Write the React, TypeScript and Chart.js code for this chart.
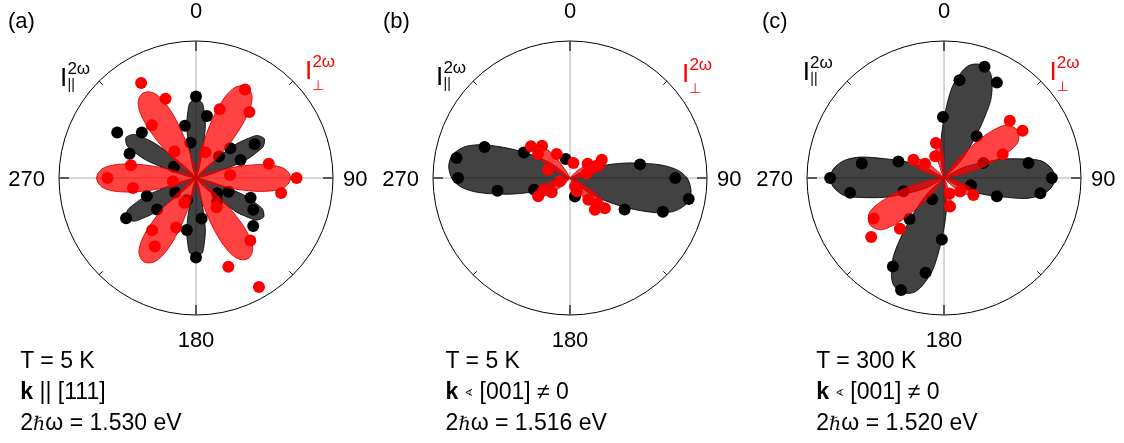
import React, { useEffect, useRef } from 'react';
import { Chart, registerables } from 'chart.js';

Chart.register(...registerables);

// ---------- angular grid (one label per degree, 0 at top, clockwise) ----------
const STEPS = 360;
const ANGLE_LABELS: string[] = Array.from({ length: STEPS }, (_, i) => String(i));
const AXIS_LABELS = ['0', '90', '180', '270'];
const MAJOR_TICKS = [0, 90, 180, 270];
const MINOR_TICKS = [45, 135, 225, 315];

// ---------- lobe outline shapes (relative radius vs angular offset) ----------
const POINTED_OFFSETS = [-30, -22, -18, -15, -12, -9, -6, -3, 0, 3, 6, 9, 12, 15, 18, 22, 30];
const POINTED_PROFILE = [0, 0.12, 0.28, 0.48, 0.68, 0.84, 0.94, 0.985, 1, 0.985, 0.94, 0.84, 0.68, 0.48, 0.28, 0.12, 0];
const BLUNT_OFFSETS = [-45, -32, -25, -20, -15, -11, -7, -3.5, 0, 3.5, 7, 11, 15, 20, 25, 32, 45];
const BLUNT_PROFILE = [0, 0.19, 0.37, 0.55, 0.76, 0.89, 0.96, 0.99, 1, 0.99, 0.96, 0.89, 0.76, 0.55, 0.37, 0.19, 0];

// ---------- panel (a) ----------
const A_BLACK_LOBE_ANGLES = [0, 60, 120, 180, 240, 300];
const A_BLACK_LOBE_LENGTHS = [0.58, 0.575, 0.57, 0.58, 0.585, 0.59];
const A_BLACK_LOBE_WIDTHS = [0.8, 0.8, 0.8, 0.8, 0.8, 0.8];
const A_RED_LOBE_ANGLES = [29, 90, 147, 212, 270, 328];
const A_RED_LOBE_LENGTHS = [0.76, 0.69, 0.7, 0.72, 0.725, 0.73];
const A_RED_LOBE_WIDTHS = [1, 1, 1, 1, 1, 1];
const A_BLACK_PT_ANGLES = [0, 10, 348, 351, 60, 49, 68, 47, 110, 119, 130, 113, 126, 172, 190, 180, 250, 231, 240, 235, 300, 310, 290, 297, 138, 202];
const A_BLACK_PT_RADII = [0.595, 0.46, 0.39, 0.26, 0.494, 0.332, 0.351, 0.23, 0.424, 0.478, 0.545, 0.259, 0.19, 0.298, 0.386, 0.58, 0.382, 0.366, 0.589, 0.185, 0.664, 0.516, 0.516, 0.18, 0.23, 0.174];
const A_RED_PT_ANGLES = [330, 339, 320, 29, 19, 39, 79, 90, 100, 139, 160, 150, 220, 211, 202, 270, 281, 261, 321, 20, 85, 145, 205, 262];
const A_RED_PT_RADII = [0.801, 0.62, 0.502, 0.738, 0.53, 0.619, 0.541, 0.734, 0.631, 0.604, 0.69, 0.919, 0.498, 0.584, 0.389, 0.646, 0.484, 0.466, 0.25, 0.2, 0.25, 0.26, 0.2, 0.17];

// ---------- panel (b) ----------
const B_BLACK_LOBE_ANGLES = [276, 97];
const B_BLACK_LOBE_LENGTHS = [0.89, 0.89];
const B_BLACK_LOBE_WIDTHS = [1, 1];
const B_RED_LOBE_ANGLES = [312, 132, 66, 244];
const B_RED_LOBE_LENGTHS = [0.34, 0.33, 0.28, 0.26];
const B_RED_LOBE_WIDTHS = [0.9, 0.9, 1.1, 1.1];
const B_BLACK_PT_ANGLES = [280, 270, 290, 260, 299, 252, 347, 165, 79, 90, 100, 110, 120];
const B_BLACK_PT_RADII = [0.841, 0.817, 0.664, 0.537, 0.385, 0.275, 0.143, 0.139, 0.521, 0.768, 0.88, 0.721, 0.46];
const B_RED_PT_ANGLES = [309, 319, 307, 331, 13, 51, 60, 66, 75, 149, 153, 140, 134, 131, 142, 240, 232, 246, 252, 291];
const B_RED_PT_RADII = [0.367, 0.311, 0.292, 0.2, 0.112, 0.166, 0.268, 0.213, 0.126, 0.071, 0.109, 0.208, 0.271, 0.337, 0.295, 0.268, 0.17, 0.213, 0.077, 0.17];

// ---------- panel (c) ----------
const C_BLACK_LOBE_ANGLES = [18, 90, 200, 270];
const C_BLACK_LOBE_LENGTHS = [0.87, 0.81, 0.89, 0.83];
const C_BLACK_LOBE_WIDTHS = [0.85, 0.9, 0.85, 0.9];
const C_RED_LOBE_ANGLES = [57, 238, 350, 169, 300, 118];
const C_RED_LOBE_LENGTHS = [0.64, 0.64, 0.28, 0.24, 0.26, 0.24];
const C_RED_LOBE_WIDTHS = [1.1, 1.1, 0.6, 0.6, 0.9, 0.9];
const C_BLACK_PT_ANGLES = [20, 9, 29, 359, 38, 80, 90, 99, 109, 69, 105, 182, 191, 210, 201, 220, 209, 270, 261, 280, 290, 252];
const C_BLACK_PT_RADII = [0.865, 0.723, 0.796, 0.445, 0.387, 0.626, 0.787, 0.712, 0.408, 0.308, 0.203, 0.45, 0.705, 0.746, 0.875, 0.391, 0.177, 0.831, 0.694, 0.609, 0.354, 0.311];
const C_RED_PT_ANGLES = [49, 59, 68, 347, 301, 307, 338, 120, 130, 168, 240, 231, 221, 160];
const C_RED_PT_RADII = [0.636, 0.669, 0.462, 0.262, 0.26, 0.173, 0.171, 0.248, 0.153, 0.212, 0.593, 0.684, 0.491, 0.12];

// ---------- texts ----------
const PANEL_TAGS = ['(a)', '(b)', '(c)'];
const CAPTION_T = ['T = 5 K', 'T = 5 K', 'T = 300 K'];
const CAPTION_REL = ['||', '∢', '∢'];
const CAPTION_DIR = ['[111]', '[001] ≠ 0', '[001] ≠ 0'];
const CAPTION_ENERGY = ['1.530', '1.516', '1.520'];

// ---------- layout / style constants ----------
const FONT = "'Liberation Sans', Arial, Helvetica, sans-serif";
const H = 443;
const R_PX = 137;
const CY = 178;
const PANEL_LEFT = [0, 375, 750];
const PANEL_WIDTH = [375, 375, 374];
const CENTER_X = [196, 570, 944];
const TAG_X = [8, 383, 762];
const CAPTION_X = [20.3, 445.6, 816.3];
const CAPTION_BASES = [368, 399.5, 430];
const IPAR_X = [60, 436, 802.7];
const IPAR_BASE = [86, 85, 80];
const IPERP_X = [305, 682, 1049.4];
const IPERP_BASE = [79, 82, 80];

const BLACK_LOBE_FILL = 'rgba(0,0,0,0.74)';
const BLACK_LOBE_LINE = 'rgba(0,0,0,0.85)';
const RED_LOBE_FILL = 'rgba(255,0,0,0.74)';
const RED_LOBE_LINE = 'rgba(220,0,0,0.9)';
const BLACK_PT = '#000000';
const RED_PT = '#ff0000';

type LobeSet = { angles: number[]; lengths: number[]; widths: number[]; offsets: number[]; profile: number[] };
type PtSet = { angles: number[]; radii: number[] };
type PanelData = { blackLobes: LobeSet; redLobes: LobeSet; blackPts: PtSet; redPts: PtSet };

const PANELS: PanelData[] = [
  {
    blackLobes: { angles: A_BLACK_LOBE_ANGLES, lengths: A_BLACK_LOBE_LENGTHS, widths: A_BLACK_LOBE_WIDTHS, offsets: POINTED_OFFSETS, profile: POINTED_PROFILE },
    redLobes: { angles: A_RED_LOBE_ANGLES, lengths: A_RED_LOBE_LENGTHS, widths: A_RED_LOBE_WIDTHS, offsets: POINTED_OFFSETS, profile: POINTED_PROFILE },
    blackPts: { angles: A_BLACK_PT_ANGLES, radii: A_BLACK_PT_RADII },
    redPts: { angles: A_RED_PT_ANGLES, radii: A_RED_PT_RADII },
  },
  {
    blackLobes: { angles: B_BLACK_LOBE_ANGLES, lengths: B_BLACK_LOBE_LENGTHS, widths: B_BLACK_LOBE_WIDTHS, offsets: BLUNT_OFFSETS, profile: BLUNT_PROFILE },
    redLobes: { angles: B_RED_LOBE_ANGLES, lengths: B_RED_LOBE_LENGTHS, widths: B_RED_LOBE_WIDTHS, offsets: POINTED_OFFSETS, profile: POINTED_PROFILE },
    blackPts: { angles: B_BLACK_PT_ANGLES, radii: B_BLACK_PT_RADII },
    redPts: { angles: B_RED_PT_ANGLES, radii: B_RED_PT_RADII },
  },
  {
    blackLobes: { angles: C_BLACK_LOBE_ANGLES, lengths: C_BLACK_LOBE_LENGTHS, widths: C_BLACK_LOBE_WIDTHS, offsets: BLUNT_OFFSETS, profile: BLUNT_PROFILE },
    redLobes: { angles: C_RED_LOBE_ANGLES, lengths: C_RED_LOBE_LENGTHS, widths: C_RED_LOBE_WIDTHS, offsets: POINTED_OFFSETS, profile: POINTED_PROFILE },
    blackPts: { angles: C_BLACK_PT_ANGLES, radii: C_BLACK_PT_RADII },
    redPts: { angles: C_RED_PT_ANGLES, radii: C_RED_PT_RADII },
  },
];

const wrap = (i: number) => ((i % STEPS) + STEPS) % STEPS;

function lobeSeries(center: number, length: number, width: number, offsets: number[], profile: number[]) {
  const arr: (number | null)[] = new Array(STEPS).fill(null);
  offsets.forEach((o, i) => {
    arr[wrap(Math.round(center + o * width))] = length * profile[i];
  });
  return arr;
}

function pointLayers(angles: number[], radii: number[]) {
  const layers: (number | null)[][] = [];
  angles.forEach((a, i) => {
    const idx = wrap(Math.round(a));
    let k = 0;
    while (layers[k] && layers[k][idx] !== null) k++;
    if (!layers[k]) layers[k] = new Array(STEPS).fill(null);
    layers[k][idx] = radii[i];
  });
  return layers;
}

function framePlugin() {
  return {
    id: 'polarFrame',
    beforeDatasetsDraw(chart: any) {
      const s = chart.scales.r;
      const ctx = chart.ctx;
      const R = s.drawingArea;
      ctx.save();
      ctx.lineCap = 'butt';
      ctx.strokeStyle = '#3a3a3a';
      ctx.lineWidth = 1.6;
      MAJOR_TICKS.forEach((a) => {
        const p = s.getPointPosition(a, R);
        const q = s.getPointPosition(a, R - 10);
        ctx.beginPath();
        ctx.moveTo(p.x, p.y);
        ctx.lineTo(q.x, q.y);
        ctx.stroke();
      });
      ctx.strokeStyle = '#000';
      ctx.lineWidth = 1;
      MINOR_TICKS.forEach((a) => {
        const p = s.getPointPosition(a, R);
        const q = s.getPointPosition(a, R - 5);
        ctx.beginPath();
        ctx.moveTo(p.x, p.y);
        ctx.lineTo(q.x, q.y);
        ctx.stroke();
      });
      ctx.restore();
    },
    afterDraw(chart: any) {
      const s = chart.scales.r;
      const ctx = chart.ctx;
      const R = s.drawingArea;
      const xc = s.xCenter;
      const yc = s.yCenter;
      ctx.save();
      ctx.fillStyle = '#000';
      ctx.font = `22px ${FONT}`;
      ctx.textBaseline = 'alphabetic';
      ctx.textAlign = 'center';
      ctx.fillText(AXIS_LABELS[0], xc, yc - R - 23);
      ctx.fillText(AXIS_LABELS[2], xc, yc + R + 32);
      ctx.textAlign = 'left';
      ctx.fillText(AXIS_LABELS[1], xc + R + 10, yc + 8);
      ctx.textAlign = 'right';
      ctx.fillText(AXIS_LABELS[3], xc - R - 14, yc + 8);
      ctx.restore();
    },
  };
}

function PolarPanel({ idx }: { idx: number }) {
  const ref = useRef<HTMLCanvasElement | null>(null);
  useEffect(() => {
    if (!ref.current) return;
    const cfg = PANELS[idx];
    const datasets: any[] = [];
    const lobeDs = (set: LobeSet, fill: string, line: string, order: number) =>
      set.angles.forEach((a, i) =>
        datasets.push({
          data: lobeSeries(a, set.lengths[i], set.widths[i], set.offsets, set.profile),
          fill: 'origin',
          spanGaps: true,
          tension: 0.3,
          pointRadius: 0,
          borderWidth: 1,
          borderColor: line,
          backgroundColor: fill,
          order,
        })
      );
    const ptDs = (set: PtSet, color: string, order: number) =>
      pointLayers(set.angles, set.radii).forEach((d) =>
        datasets.push({
          data: d,
          showLine: false,
          fill: false,
          borderWidth: 0,
          borderColor: 'transparent',
          backgroundColor: color,
          pointRadius: 6,
          pointBorderWidth: 0,
          pointBackgroundColor: color,
          pointBorderColor: color,
          order,
        })
      );
    lobeDs(cfg.redLobes, RED_LOBE_FILL, RED_LOBE_LINE, 1);
    ptDs(cfg.redPts, RED_PT, 2);
    ptDs(cfg.blackPts, BLACK_PT, 3);
    lobeDs(cfg.blackLobes, BLACK_LOBE_FILL, BLACK_LOBE_LINE, 4);

    const localCx = CENTER_X[idx] - PANEL_LEFT[idx];
    const padL = localCx - R_PX;
    const padR = PANEL_WIDTH[idx] - padL - 2 * R_PX;
    const padT = CY - R_PX;
    const padB = H - padT - 2 * R_PX;

    const chart = new Chart(ref.current, {
      type: 'radar',
      data: { labels: ANGLE_LABELS, datasets },
      options: {
        responsive: false,
        animation: false,
        events: [],
        layout: { padding: { left: padL, right: padR, top: padT, bottom: padB } },
        plugins: { legend: { display: false }, tooltip: { enabled: false } },
        scales: {
          r: {
            min: 0,
            max: 1,
            beginAtZero: true,
            ticks: { display: false, stepSize: 1 },
            grid: { circular: true, color: '#000', lineWidth: 1 },
            angleLines: {
              display: true,
              color: '#b0b0b0',
              lineWidth: (c: any) => (c.index % 90 === 0 ? 1 : 0),
            },
            pointLabels: { display: false },
          },
        },
      } as any,
      plugins: [framePlugin() as any],
    });
    return () => chart.destroy();
  }, [idx]);
  return (
    <canvas
      ref={ref}
      width={PANEL_WIDTH[idx]}
      height={H}
      style={{ position: 'absolute', left: PANEL_LEFT[idx], top: 0, width: PANEL_WIDTH[idx], height: H }}
    />
  );
}

function Txt(props: { x: number; base: number; size: number; color?: string; family?: string; children: React.ReactNode }) {
  const { x, base, size, color = '#000', family = FONT, children } = props;
  return (
    <div
      style={{
        position: 'absolute',
        left: x,
        top: base - size * 0.8465,
        fontSize: size,
        lineHeight: `${size}px`,
        fontFamily: family,
        color,
        whiteSpace: 'nowrap',
      }}
    >
      {children}
    </div>
  );
}

function Annotations({ idx }: { idx: number }) {
  const cx = CAPTION_X[idx];
  const [b1, b2, b3] = CAPTION_BASES;
  return (
    <>
      <Txt x={TAG_X[idx]} base={29} size={22}>{PANEL_TAGS[idx]}</Txt>
      {/* I parallel */}
      <Txt x={IPAR_X[idx]} base={IPAR_BASE[idx]} size={26}>I</Txt>
      <Txt x={IPAR_X[idx] + 7.4} base={IPAR_BASE[idx] - 12} size={17}>2ω</Txt>
      <Txt x={IPAR_X[idx] + 7.6} base={IPAR_BASE[idx] + 2.5} size={14}>||</Txt>
      {/* I perpendicular */}
      <Txt x={IPERP_X[idx]} base={IPERP_BASE[idx]} size={26} color="#ff0000">I</Txt>
      <Txt x={IPERP_X[idx] + 7.4} base={IPERP_BASE[idx] - 12} size={17} color="#ff0000">2ω</Txt>
      <Txt x={IPERP_X[idx] + 7} base={IPERP_BASE[idx] + 11} size={14} color="#ff0000" family="'DejaVu Sans', sans-serif">⊥</Txt>
      {/* captions */}
      <Txt x={cx} base={b1} size={23}>{CAPTION_T[idx]}</Txt>
      <Txt x={cx} base={b2} size={23}>
        <b>k</b>{' '}
        {CAPTION_REL[idx] === '||' ? (
          <span>||</span>
        ) : (
          <span style={{ fontFamily: "'DejaVu Sans', sans-serif", fontSize: 10, position: 'relative', top: -3 }}>{CAPTION_REL[idx]}</span>
        )}{' '}
        {CAPTION_DIR[idx]}
      </Txt>
      <Txt x={cx} base={b3} size={23}>
        2<span style={{ fontFamily: "'DejaVu Serif', serif", fontStyle: 'italic', fontSize: 19 }}>ℏ</span>ω = {CAPTION_ENERGY[idx]} eV
      </Txt>
    </>
  );
}

export default function App() {
  return (
    <div
      style={{
        position: 'fixed',
        left: 0,
        top: 0,
        width: 1124,
        height: H,
        background: '#ffffff',
        overflow: 'hidden',
        fontFamily: FONT,
      }}
    >
      {[0, 1, 2].map((i) => (
        <PolarPanel key={`p${i}`} idx={i} />
      ))}
      {[0, 1, 2].map((i) => (
        <Annotations key={`t${i}`} idx={i} />
      ))}
    </div>
  );
}
